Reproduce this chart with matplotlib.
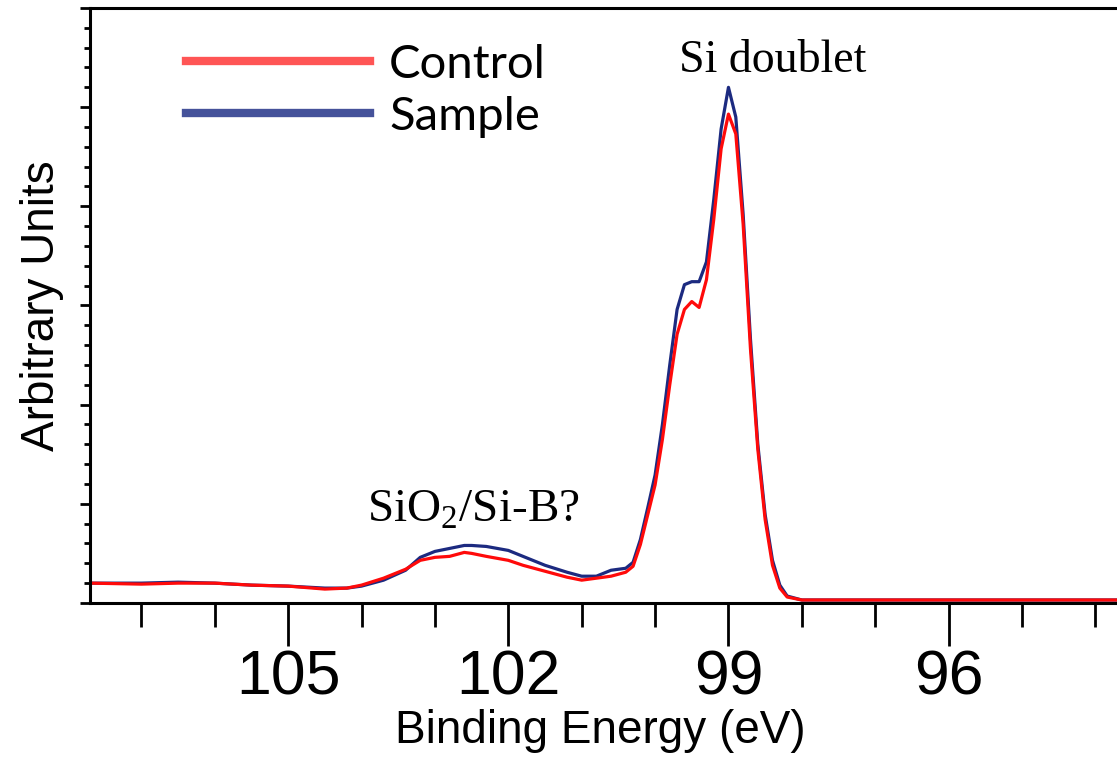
import matplotlib
matplotlib.use("Agg")
import matplotlib.pyplot as plt
from matplotlib.lines import Line2D
from matplotlib.ticker import MultipleLocator

# Binding energy (eV) and intensities (arbitrary units)
energia = [107.7, 107.0, 106.5, 106.0, 105.5, 105.0, 104.5, 104.2, 104.0, 103.7,
           103.4, 103.2, 103.0, 102.8, 102.6, 102.5, 102.3, 102.0, 101.8, 101.5,
           101.2, 101.0, 100.8, 100.6, 100.4, 100.3, 100.2, 100.1, 100.0, 99.9,
           99.8, 99.7, 99.6, 99.5, 99.4, 99.3, 99.2, 99.1, 99.0, 98.9,
           98.8, 98.7, 98.6, 98.5, 98.4, 98.3, 98.2, 98.0, 97.5, 97.0,
           96.0, 95.0, 94.0, 93.0]

controle = [0.20, 0.19, 0.20, 0.20, 0.18, 0.17, 0.14, 0.15, 0.18, 0.25,
            0.34, 0.43, 0.46, 0.47, 0.51, 0.50, 0.47, 0.43, 0.38, 0.32,
            0.26, 0.23, 0.25, 0.27, 0.31, 0.37, 0.59, 0.89, 1.19, 1.65,
            2.20, 2.71, 2.96, 3.04, 2.98, 3.26, 3.87, 4.58, 4.93, 4.73,
            3.82, 2.56, 1.55, 0.84, 0.38, 0.15, 0.06, 0.03, 0.03, 0.03,
            0.03, 0.03, 0.03, 0.03]

amostra = [0.20, 0.20, 0.21, 0.20, 0.18, 0.17, 0.15, 0.15, 0.17, 0.23,
           0.33, 0.46, 0.52, 0.55, 0.58, 0.58, 0.57, 0.53, 0.47, 0.38,
           0.31, 0.27, 0.27, 0.33, 0.35, 0.41, 0.64, 0.96, 1.29, 1.80,
           2.40, 2.96, 3.21, 3.24, 3.24, 3.44, 4.07, 4.78, 5.20, 4.90,
           3.92, 2.66, 1.60, 0.89, 0.43, 0.18, 0.07, 0.03, 0.03, 0.03,
           0.03, 0.03, 0.03, 0.03]

fig = plt.figure(figsize=(11.17, 7.62), dpi=100)
ax = fig.add_axes([0.0806, 0.2087, 0.9526, 0.7808])

ax.plot(energia, amostra, color='#1c2a80', lw=2.3)
ax.plot(energia, controle, color='#ff0a0a', lw=2.3)

ax.set_xlim(107.7, 93.2)
ax.set_ylim(0, 6.0)

ax.xaxis.set_major_locator(MultipleLocator(3))
ax.xaxis.set_minor_locator(MultipleLocator(1))
ax.yaxis.set_major_locator(MultipleLocator(1))
ax.yaxis.set_minor_locator(MultipleLocator(0.2))
ax.set_yticklabels([])

for s in ax.spines.values():
    s.set_linewidth(2.2)

ax.tick_params(axis='x', which='major', direction='out', length=31, width=2, pad=2,
               labelsize=45)
ax.tick_params(axis='x', which='minor', direction='out', length=17, width=2)
ax.tick_params(axis='y', which='major', direction='out', length=7, width=2)
ax.tick_params(axis='y', which='minor', direction='out', length=4, width=2)
for lbl in ax.get_xticklabels():
    lbl.set_fontfamily('Liberation Sans')

ax.set_xlabel('Binding Energy (eV)', fontsize=33, fontfamily='Liberation Sans')
ax.xaxis.set_label_coords(0.48, -0.178)
ax.set_ylabel('Arbitrary Units', fontsize=33, fontfamily='Liberation Sans')
ax.yaxis.set_label_coords(-0.024, 0.5)

# Legenda
alcas = [Line2D([], [], color='#ff5555', lw=6),
         Line2D([], [], color='#45529a', lw=6)]
ax.legend(alcas, ['Control', 'Sample'], loc='upper left',
          bbox_to_anchor=(0.068, 0.98), frameon=False, borderpad=0,
          handlelength=3.9, handletextpad=0.4, labelspacing=0.22,
          prop={'family': 'Lato', 'size': 34})

# Anotações
ax.text(98.4, 5.25, 'Si doublet', fontsize=33, fontfamily='Liberation Serif',
        ha='center', va='bottom')
ax.text(102.48, 0.72, 'SiO$_\\mathregular{2}$/Si-B?', fontsize=34,
        fontfamily='Liberation Serif', ha='center', va='bottom')

plt.savefig('out.png', dpi=100)
